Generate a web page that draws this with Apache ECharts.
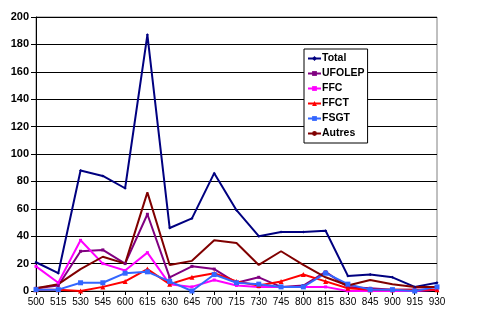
<!DOCTYPE html>
<html><head><meta charset="utf-8">
<script src="https://cdn.jsdelivr.net/npm/echarts@6/dist/echarts.min.js"></script>
<style>html,body{margin:0;padding:0;background:#fff}#c{width:500px;height:311px}</style>
</head><body><div id="c"></div>
<script>
var categories = ["500","515","530","545","600","615","630","645","700","715","730","745","800","815","830","845","900","915","930"];
var total  = [21,13,88,84,75,187,46,53,86,59,40,43,43,44,11,12,10,3,6];
var ufolep = [2,4,29,30,20,56,10,18,16,6,10,3,4,14,3,2,1,1,1];
var ffc    = [18,6,37,20,15,28,5,3,8,4,3,3,3,3,0,0,0,0,1];
var ffct   = [1,1,0,3,7,16,5,10,13,7,4,7,12,7,2,1,1,1,1];
var fsgt   = [1,1,6,6,13,14,7,0,12,6,5,3,3,13,5,1,1,0,3];
var autres = [2,5,16,25,20,72,19,22,37,35,19,29,19,10,4,8,5,3,3];
var yTicks = [0,20,40,60,80,100,120,140,160,180,200];

var names = ["Total","UFOLEP","FFC","FFCT","FSGT","Autres"];
var datas = [total,ufolep,ffc,ffct,fsgt,autres];
var colors = ["#000080","#800080","#FF00FF","#FF0000","#3366FF","#800000"];
var symbols = ["diamond","rect","rect","triangle","rect","none"];
var sizes = [3,3,3,5,5,0];

var series = names.map(function(n,i){
  return {name:n,type:'line',data:datas[i],symbol:symbols[i],symbolSize:sizes[i],
    showSymbol: symbols[i] !== 'none',
    lineStyle:{color:colors[i],width:2},itemStyle:{color:colors[i]},animation:false};
});

var chart = echarts.init(document.getElementById('c'),null,{renderer:'canvas'});
chart.setOption({
  animation:false,
  backgroundColor:'#fff',
  grid:{left:36,right:63,top:17,bottom:20,show:true,borderColor:'#808080',borderWidth:1},
  legend:{orient:'vertical',left:304,top:49,data:names,itemWidth:13,itemHeight:6,itemGap:4,
    padding:[4,3,4,3],borderColor:'#000',borderWidth:1,backgroundColor:'#fff',
    textStyle:{fontFamily:'Liberation Sans',fontWeight:'bold',fontSize:10.5,color:'#000',padding:[0,0,0,-4]}},
  xAxis:{type:'category',data:categories,boundaryGap:false,
    axisLine:{lineStyle:{color:'#000',width:1}},
    axisTick:{show:true,inside:false,length:4,lineStyle:{color:'#000'}},
    axisLabel:{interval:0,color:'#000',fontFamily:'Liberation Sans',fontSize:10,margin:6},
    splitLine:{show:false}},
  yAxis:{type:'value',min:0,max:200,interval:20,
    axisLine:{show:true,lineStyle:{color:'#000',width:1}},
    axisTick:{show:true,length:5,lineStyle:{color:'#000'}},
    axisLabel:{color:'#000',fontFamily:'Liberation Sans',fontWeight:'bold',fontSize:11,margin:7,
      formatter:function(v){return yTicks.indexOf(v)>=0?String(v):'';}},
    splitLine:{show:true,lineStyle:{color:'#000',width:1}}},
  series:series
});
</script></body></html>
